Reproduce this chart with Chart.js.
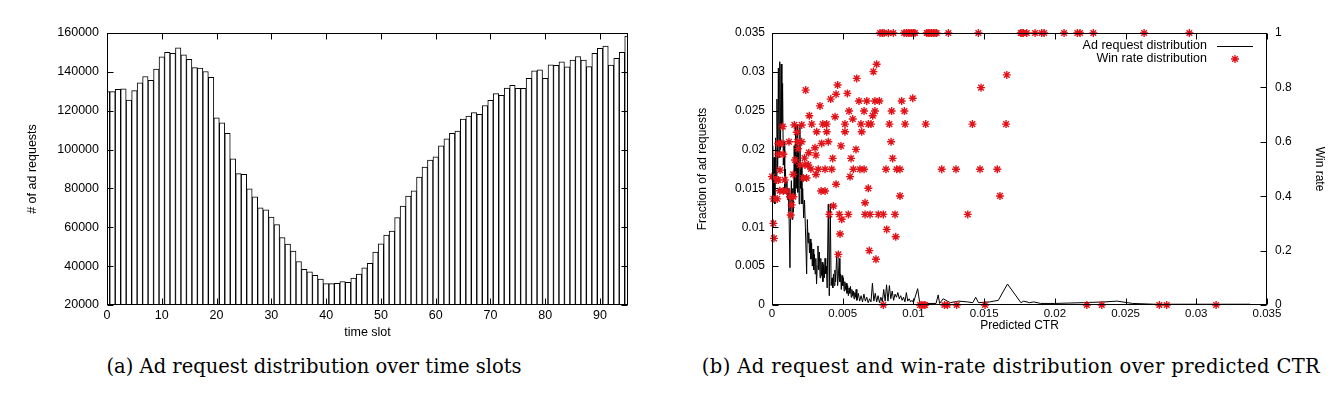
<!DOCTYPE html>
<html>
<head>
<meta charset="utf-8">
<script src="https://cdn.jsdelivr.net/npm/chart.js@4.4.1/dist/chart.umd.min.js"></script>
<style>
body { margin:0; background:#fff; width:1335px; height:395px; overflow:hidden; position:relative; }
canvas { position:absolute; top:0; }
#c1 { left:0; }
#c2 { left:665px; }
.cap { position:absolute; top:355px; font-family:"DejaVu Serif", serif; font-size:19.5px; white-space:nowrap; transform:translateX(-50%); color:#000; }
</style>
</head>
<body>
<canvas id="c1" width="660" height="345"></canvas>
<canvas id="c2" width="670" height="345"></canvas>
<div class="cap" style="left:314px">(a) Ad request distribution over time slots</div>
<div class="cap" style="left:1011px; letter-spacing:0.4px">(b) Ad request and win-rate distribution over predicted CTR</div>
<script>
// (a) requests per time slot, 0..95
const slotTicks = [0, 10, 20, 30, 40, 50, 60, 70, 80, 90];
const reqTicks = [20000, 40000, 60000, 80000, 100000, 120000, 140000, 160000];
const requests = [
  129800, 129800, 131000, 131200, 125500, 130300, 134300, 137600, 135700, 141400,
  147700, 150000, 149500, 152400, 148800, 146400, 142200, 141900, 140200, 137200,
  116400, 113800, 108400, 95200, 87600, 87200, 79800, 75700, 70000, 69000,
  65200, 61400, 54700, 51400, 47800, 42400, 38400, 37100, 35300, 33400,
  31000, 31000, 31200, 32100, 31700, 33800, 35900, 39100, 41400, 47200,
  51500, 56000, 58100, 65000, 70900, 76000, 78800, 85900, 91000, 94600,
  96200, 101900, 105500, 108400, 109500, 115700, 117200, 119000, 118100, 122700,
  125300, 128800, 127900, 131700, 133100, 131500, 131500, 136700, 140500, 141000,
  136700, 143600, 143300, 145200, 142600, 146000, 147900, 146000, 142700, 149500,
  152100, 153300, 143500, 146900, 150000, 158400
];

// (b) ad request fraction over predicted CTR
const ctrTicks = [0, 0.005, 0.01, 0.015, 0.02, 0.025, 0.03, 0.035];
const rateTicks = [0, 0.2, 0.4, 0.6, 0.8, 1];
const lineCtr = [
  0, 0.00005, 0.0001, 0.00015, 0.0002, 0.00025, 0.0003, 0.00035, 0.0004, 0.00045,
  0.0005, 0.00055, 0.0006, 0.00065, 0.0007, 0.00075, 0.0008, 0.00085, 0.0009, 0.00095,
  0.001, 0.00105, 0.0011, 0.00115, 0.0012, 0.00127, 0.00132, 0.00137, 0.00142, 0.00147,
  0.00152, 0.00157, 0.00162, 0.00167, 0.00172, 0.00177, 0.00182, 0.00187, 0.00192, 0.00197,
  0.00202, 0.00207, 0.00212, 0.00217, 0.00224, 0.0023, 0.00236, 0.00245, 0.0025, 0.00255,
  0.0026, 0.00265, 0.0027, 0.00275, 0.0028, 0.00285, 0.0029, 0.00295, 0.003, 0.00305,
  0.0031, 0.00315, 0.0032, 0.00325, 0.0033, 0.00335, 0.0034, 0.00345, 0.0035, 0.00355,
  0.0036, 0.00365, 0.0037, 0.00375, 0.0038, 0.00385, 0.0039, 0.00398, 0.00405, 0.00412,
  0.00418, 0.00425, 0.0043, 0.00435, 0.0044, 0.00445, 0.0045, 0.00458, 0.00464, 0.0047,
  0.00475, 0.0048, 0.00485, 0.0049, 0.00495, 0.005, 0.00505, 0.0051, 0.00515, 0.0052,
  0.00525, 0.0053, 0.00535, 0.0054, 0.00545, 0.0055, 0.00555, 0.0056, 0.00565, 0.0057,
  0.00575, 0.0058, 0.00585, 0.0059, 0.00595, 0.006, 0.0061, 0.0062, 0.0063, 0.0064,
  0.0065, 0.0066, 0.0067, 0.0068, 0.0069, 0.007, 0.0071, 0.0072, 0.0073, 0.0074,
  0.0075, 0.0076, 0.0077, 0.0078, 0.0079, 0.008, 0.0081, 0.0082, 0.0083, 0.0084,
  0.0085, 0.0086, 0.0087, 0.0088, 0.0089, 0.009, 0.0091, 0.0092, 0.0093, 0.0094,
  0.0095, 0.0096, 0.0097, 0.0098, 0.0099, 0.01, 0.0103, 0.01045, 0.011, 0.0116,
  0.01175, 0.01185, 0.0121, 0.0126, 0.0132, 0.0138, 0.0142, 0.0144, 0.0146, 0.0154,
  0.016, 0.01665, 0.0176, 0.0178, 0.0182, 0.0185, 0.019, 0.02, 0.022, 0.0235,
  0.0244, 0.0255, 0.027, 0.03, 0.0338
];
const lineFrac = [
  0.0165, 0.0205, 0.014, 0.019, 0.013, 0.0215, 0.016, 0.0265, 0.0175, 0.0305,
  0.019, 0.0313, 0.02, 0.031, 0.023, 0.0285, 0.018, 0.021, 0.015, 0.0175,
  0.0145, 0.016, 0.0135, 0.015, 0.012, 0.0048, 0.013, 0.016, 0.011, 0.015,
  0.012, 0.0205, 0.014, 0.0232, 0.015, 0.0232, 0.0145, 0.02, 0.013, 0.0232,
  0.015, 0.018, 0.013, 0.015, 0.0112, 0.0135, 0.01, 0.004, 0.011, 0.008,
  0.0093, 0.0067, 0.0085, 0.0059, 0.008, 0.005, 0.0072, 0.0045, 0.0065, 0.004,
  0.006, 0.0027, 0.005, 0.0076, 0.0045, 0.0068, 0.0035, 0.006, 0.0038, 0.0055,
  0.003, 0.0052, 0.0035, 0.006, 0.004, 0.005, 0.0022, 0.013, 0.0012, 0.013,
  0.0025, 0.0035, 0.0022, 0.004, 0.0025, 0.0045, 0.003, 0.0067, 0.0025, 0.004,
  0.006, 0.003, 0.004, 0.002, 0.0038, 0.0025, 0.0035, 0.0018, 0.003, 0.002,
  0.0028, 0.0015, 0.0025, 0.0012, 0.0022, 0.0015, 0.0024, 0.001, 0.002, 0.0012,
  0.0018, 0.0008, 0.0016, 0.001, 0.002, 0.0006, 0.0015, 0.0005, 0.0012, 0.0004,
  0.0014, 0.0005, 0.001, 0.0003, 0.0008, 0.0004, 0.0028, 0.0005, 0.0015, 0.0004,
  0.0012, 0.0003, 0.001, 0.0004, 0.002, 0.0005, 0.0026, 0.0005, 0.0025, 0.0008,
  0.0018, 0.0006, 0.0014, 0.001, 0.0016, 0.0008, 0.0012, 0.0006, 0.001, 0.0004,
  0.0016, 0.0005, 0.0008, 0.0004, 0.0006, 0.0003, 0.0021, 0.0002, 0.0002, 0.0002,
  0.0013, 0.0002, 0.0008, 0.0003, 0.0005, 0.0004, 0.0003, 0.001, 0.0003, 0.0004,
  0.0006, 0.0027, 0.0003, 0.0005, 0.0003, 0.0004, 0.0002, 0.0002, 0.0003, 0.0004,
  0.0005, 0.0002, 0.0001, 0.0001, 0.0001
];

// win rate per CTR bucket
const winCtr = [
  0.00764, 0.0078, 0.00792, 0.00823, 0.00858, 0.00934, 0.0095, 0.00964, 0.00975, 0.00988,
  0.01, 0.01011, 0.01094, 0.01105, 0.01117, 0.01128, 0.01141, 0.01152, 0.01164, 0.01247,
  0.01459, 0.01759, 0.01768, 0.01777, 0.01801, 0.0186, 0.01907, 0.01924, 0.02065, 0.02159,
  0.02178, 0.02272, 0.02631, 0.02951,
  0.00787, 0.01047, 0.0106, 0.01075, 0.01082, 0.01219, 0.0124, 0.01306, 0.01506, 0.02226,
  0.02332, 0.02739, 0.02791, 0.0314,
  0.00238, 0.00464, 0.00599, 0.00717, 0.0074, 0.00533, 0.00453, 0.00415, 0.00339, 0.00264,
  0.00446, 0.00545, 0.00615, 0.0067, 0.00728, 0.00759, 0.00651, 0.00728, 0.00712, 0.00571,
  0.00281, 0.00359, 0.00387, 0.00516, 0.00629, 0.00681, 0.007, 0.0083, 0.00846, 0.00917,
  0.00936, 0.00941, 0.00995, 0.01087, 0.01417, 0.01478, 0.0166, 0.01655, 0.00316, 0.00387,
  0.00516, 0.00634, 0.00842, 0.00351, 0.00398, 0.00488, 0.00594, 0.00304, 0.00311, 0.00429,
  0.00559, 0.00853, 0.00327, 0.00375, 0.00422, 0.00575, 0.00622, 0.00651, 0.00806, 0.00882,
  0.00905, 0.012, 0.01301, 0.01471, 0.01593, 0.00311, 0.00552, 0.00453, 0.00681, 0.00347,
  0.00375, 0.00905, 0.01612, 0.00434, 0.00658, 0.00405, 0.00476, 0.0054, 0.00658, 0.00693,
  0.00752, 0.00787, 0.0087, 0.01384, 0.00493, 0.00811, 0.00481, 0.00875, 0.00688, 0.00469,
  0.00735,
  0, 0.00033, 0.00045, 0.0001, 0.00037, 0.0001, 0.00014, 0.00057, 0.00045, 0.00069,
  0.00076, 0.00045, 0.0008, 0.0008, 0.00104, 0.00127, 0.00151, 0.00132, 0.00139, 0.00163,
  0.00175, 0.00179, 0.0021, 0.0021, 0.00198, 0.00233, 0.00257, 0.00221, 0.00245, 0.00158,
  0.00185, 0.0012, 0.00055, 0.0009, 0.0015, 0.0023, 0.0026, 0.00275
];
const winRate = [
  1, 1, 1, 1, 1, 1, 1, 1, 1, 1,
  1, 1, 1, 1, 1, 1, 1, 1, 1, 1,
  1, 1, 1, 1, 1, 1, 1, 1, 1, 1,
  1, 1, 1, 1,
  0, 0, 0, 0, 0, 0, 0, 0, 0, 0,
  0, 0, 0, 0,
  0.79, 0.809, 0.833, 0.858, 0.885, 0.778, 0.775, 0.757, 0.732, 0.696,
  0.692, 0.713, 0.75, 0.75, 0.75, 0.75, 0.713, 0.713, 0.696, 0.684,
  0.665, 0.665, 0.665, 0.665, 0.665, 0.665, 0.665, 0.665, 0.713, 0.75,
  0.713, 0.665, 0.76, 0.665, 0.665, 0.799, 0.846, 0.665, 0.637, 0.637,
  0.637, 0.637, 0.6, 0.594, 0.6, 0.585, 0.572, 0.578, 0.551, 0.539,
  0.539, 0.539, 0.499, 0.499, 0.499, 0.499, 0.499, 0.499, 0.499, 0.499,
  0.499, 0.499, 0.499, 0.499, 0.499, 0.48, 0.472, 0.444, 0.429, 0.419,
  0.419, 0.401, 0.401, 0.364, 0.376, 0.333, 0.333, 0.333, 0.333, 0.333,
  0.333, 0.333, 0.333, 0.333, 0.315, 0.278, 0.261, 0.251, 0.2, 0.186,
  0.168,
  0.472, 0.46, 0.46, 0.39, 0.39, 0.3, 0.245, 0.496, 0.594, 0.594,
  0.656, 0.554, 0.554, 0.419, 0.419, 0.398, 0.398, 0.331, 0.368, 0.533,
  0.635, 0.6, 0.6, 0.662, 0.515, 0.515, 0.515, 0.467, 0.467, 0.662,
  0.575, 0.6, 0.42, 0.46, 0.48, 0.54, 0.56, 0.5
];

const sans = '"Liberation Sans", Arial, sans-serif';
const num = v => String(Number(v.toFixed(4)));

// gnuplot style box with inward tick marks
const frame = {
  id: 'frame',
  afterDraw(chart, args, opts) {
    const ctx = chart.ctx, a = chart.chartArea;
    const L = Math.round(a.left) + 0.5, R = Math.round(a.right) - 0.5;
    const T = Math.round(a.top) + 0.5, B = Math.round(a.bottom) - 0.5;
    ctx.save();
    ctx.strokeStyle = '#000';
    ctx.lineWidth = 1;
    ctx.strokeRect(L, T, R - L, B - T);
    const len = 6;
    Object.keys(opts.sides || {}).forEach(id => {
      const s = chart.scales[id];
      s.ticks.forEach(t => {
        const p = Math.round(s.getPixelForValue(t.value)) + 0.5;
        ctx.beginPath();
        opts.sides[id].forEach(side => {
          if (side === 'bottom') { ctx.moveTo(p, B); ctx.lineTo(p, B - len); }
          if (side === 'top') { ctx.moveTo(p, T); ctx.lineTo(p, T + len); }
          if (side === 'left') { ctx.moveTo(L, p); ctx.lineTo(L + len, p); }
          if (side === 'right') { ctx.moveTo(R, p); ctx.lineTo(R - len, p); }
        });
        ctx.stroke();
      });
    });
    if (opts.legend) {
      const lg = opts.legend;
      ctx.font = lg.font;
      ctx.textAlign = 'right';
      ctx.textBaseline = 'middle';
      chart.data.datasets.slice().reverse().forEach((ds, i) => {
        const y = lg.y + i * lg.gap;
        ctx.fillStyle = '#000';
        ctx.strokeStyle = ds.borderColor;
        ctx.lineWidth = ds.borderWidth;
        ctx.fillText(ds.label, lg.x, y);
        if (ds.pointStyle === 'star') {
          Chart.helpers.drawPoint(ctx, {pointStyle: 'star', radius: ds.pointRadius, rotation: 0, borderWidth: ds.borderWidth}, lg.sx + lg.sw / 2, y);
        } else {
          ctx.beginPath();
          ctx.moveTo(lg.sx, Math.round(y) + 0.5);
          ctx.lineTo(lg.sx + lg.sw, Math.round(y) + 0.5);
          ctx.stroke();
        }
      });
    }
    ctx.restore();
  }
};

const noGrid = { display: false, drawTicks: false };
const fixW = w => s => { s.width = w; };
const fixH = h => s => { s.height = h; };

new Chart(document.getElementById('c1'), {
  type: 'bar',
  data: {
    datasets: [{
      data: requests.map((v, i) => ({ x: i, y: v })),
      backgroundColor: '#fff',
      borderColor: '#000',
      borderWidth: 1,
      barPercentage: 1,
      categoryPercentage: 1
    }]
  },
  options: {
    responsive: false,
    animation: false,
    layout: { padding: { top: 33, right: 32, left: 0, bottom: 0 } },
    plugins: {
      legend: { display: false },
      tooltip: { enabled: false },
      frame: { sides: { x: ['bottom', 'top'], y: ['left', 'right'] } }
    },
    scales: {
      x: {
        type: 'linear', min: 0, max: 95.1, offset: false,
        grid: noGrid, border: { display: false },
        afterBuildTicks: s => { s.ticks = slotTicks.map(v => ({ value: v })); },
        afterFit: fixH(40),
        ticks: { padding: 3, color: '#000', font: { family: sans, size: 12.5 }, maxRotation: 0, callback: v => String(v) },
        title: { display: true, text: 'time slot', color: '#000', font: { family: sans, size: 12.5 }, padding: { bottom: 5 } }
      },
      y: {
        min: 20000, max: 160000,
        grid: noGrid, border: { display: false },
        afterBuildTicks: s => { s.ticks = reqTicks.map(v => ({ value: v })); },
        afterFit: fixW(107),
        ticks: { padding: 8, color: '#000', font: { family: sans, size: 12.5 }, callback: v => String(v) },
        title: { display: true, text: '# of ad requests', color: '#000', font: { family: sans, size: 12.5 }, padding: { top: 25 } }
      }
    }
  },
  plugins: [frame]
});

new Chart(document.getElementById('c2'), {
  type: 'scatter',
  data: {
    datasets: [
      {
        label: 'Win rate distribution',
        data: winCtr.map((c, i) => ({ x: c, y: winRate[i] })),
        yAxisID: 'y2',
        pointStyle: 'star',
        pointRadius: 4,
        borderColor: '#e2141a',
        backgroundColor: '#e2141a',
        borderWidth: 1.4,
        clip: false,
        order: 0
      },
      {
        type: 'line',
        label: 'Ad request distribution',
        data: lineCtr.map((c, i) => ({ x: c, y: lineFrac[i] })),
        yAxisID: 'y',
        borderColor: '#000',
        borderWidth: 1,
        pointRadius: 0,
        tension: 0,
        order: 1
      }
    ]
  },
  options: {
    responsive: false,
    animation: false,
    layout: { padding: { top: 33, right: 0, left: 0, bottom: 0 } },
    plugins: {
      legend: { display: false },
      tooltip: { enabled: false },
      frame: {
        sides: { x: ['bottom', 'top'], y: ['left'], y2: ['right'] },
        legend: { x: 542, y: 46, gap: 13, sx: 552, sw: 36, font: '12.5px ' + sans }
      }
    },
    scales: {
      x: {
        type: 'linear', min: 0, max: 0.035,
        grid: noGrid, border: { display: false },
        afterBuildTicks: s => { s.ticks = ctrTicks.map(v => ({ value: v })); },
        afterFit: fixH(40),
        ticks: { padding: 2, color: '#000', font: { family: sans, size: 11.5 }, maxRotation: 0, callback: v => num(v) },
        title: { display: true, text: 'Predicted CTR', color: '#000', font: { family: sans, size: 12 }, padding: { bottom: 12 } }
      },
      y: {
        position: 'left', min: 0, max: 0.035,
        grid: noGrid, border: { display: false },
        afterBuildTicks: s => { s.ticks = ctrTicks.map(v => ({ value: v })); },
        afterFit: fixW(107),
        ticks: { padding: 7, color: '#000', font: { family: sans, size: 12 }, callback: v => num(v) },
        title: { display: true, text: 'Fraction of ad requests', color: '#000', font: { family: sans, size: 12 }, padding: { top: 30 } }
      },
      y2: {
        position: 'right', min: 0, max: 1,
        grid: noGrid, border: { display: false },
        afterBuildTicks: s => { s.ticks = rateTicks.map(v => ({ value: v })); },
        afterFit: fixW(68),
        ticks: { padding: 8, color: '#000', font: { family: sans, size: 12 }, callback: v => num(v) },
        title: { display: true, text: 'Win rate', color: '#000', font: { family: sans, size: 12 }, padding: { top: 8 } }
      }
    }
  },
  plugins: [frame]
});
</script>
</body>
</html>
